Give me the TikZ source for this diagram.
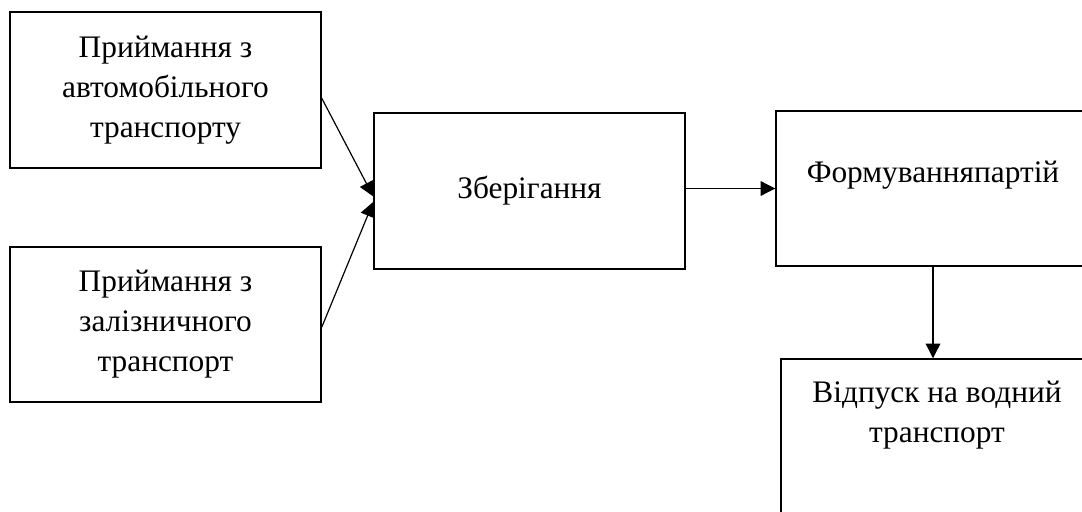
\documentclass[tikz,border=0pt]{standalone}
\usepackage{fontspec}
\setmainfont{Liberation Serif}
\usetikzlibrary{arrows.meta}

\begin{document}
\begin{tikzpicture}[
  x=0.75pt, y=-0.75pt,
  font=\fontsize{23.5}{30}\selectfont,
  stagebox/.style={draw, line width=1.1pt, align=center, inner sep=0pt},
  flow/.style={-{Triangle[length=11pt,width=11pt]}, line width=0.9pt}
]
\path[use as bounding box, clip] (0,0) rectangle (1082,511);
\node[stagebox, minimum width=233.25pt, minimum height=117pt] (auto) at (165.5,90) {Приймання з\\автомобільного\\транспорту};
\node[stagebox, minimum width=233.25pt, minimum height=116.25pt] (rail) at (165.5,324.5) {Приймання з\\залізничного\\транспорт};
\node[stagebox, minimum width=233.25pt, minimum height=117pt] (store) at (529.5,191) {Зберігання};
\node[stagebox, minimum width=235.5pt, minimum height=116.25pt, text height=16pt, text depth=25.75pt] (batch) at (933,188.5) {Формуванняпартій};
\node[stagebox, minimum width=234pt, minimum height=120.75pt, text height=46pt, text depth=42.25pt] (ship) at (937,439.5) {Відпуск на водний\\транспорт};
\draw[flow] (auto.-3) -- (store.182);
\draw[flow] (rail.-1) -- (store.184.5);
\draw[flow] (store.east |- batch.west) -- (batch.west);
\draw[flow] (batch.south) -- (batch.south |- ship.north);
\end{tikzpicture}
\end{document}
